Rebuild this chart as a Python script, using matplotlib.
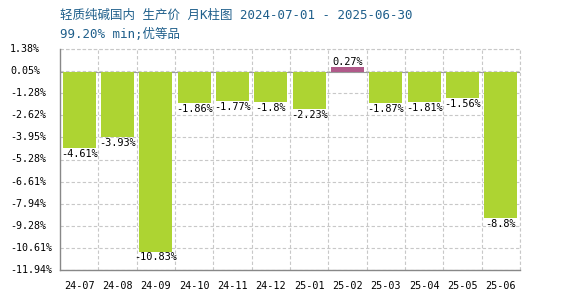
import matplotlib.pyplot as plt
import matplotlib.transforms as mtransforms

months = ['24-07', '24-08', '24-09', '24-10', '24-11', '24-12',
          '25-01', '25-02', '25-03', '25-04', '25-05', '25-06']
changes = [-4.61, -3.93, -10.83, -1.86, -1.77, -1.8,
           -2.23, 0.27, -1.87, -1.81, -1.56, -8.8]
yticks = [1.38, 0.05, -1.28, -2.62, -3.95, -5.28, -6.61, -7.94, -9.28, -10.61, -11.94]

mono = ['DejaVu Sans Mono', 'Noto Sans CJK SC']
plt.rcParams['font.family'] = mono

fig = plt.figure(figsize=(5.7, 3.0), dpi=100)
ax = fig.add_axes([60/570, 30/300, 460/570, 221/300])

x = list(range(len(months)))
colors = ['#ADD432' if v < 0 else '#B05A8A' for v in changes]
ax.bar(x, changes, width=0.86, color=colors, zorder=2)

for i, v in enumerate(changes):
    if v < 0:
        ax.text(i, v - 0.05, '%g%%' % v, ha='center', va='top', fontsize=7.4, zorder=3)
    else:
        ax.text(i, v + 0.05, '%g%%' % v, ha='center', va='bottom', fontsize=7.4, zorder=3)

ax.set_xlim(-0.5, len(months) - 0.5)
ax.set_ylim(-11.94, 1.38)
ax.set_yticks(yticks)
ax.set_yticklabels([])
ax.set_xticks(x)
ax.set_xticklabels(months, fontsize=7.3)
ax.set_xticks([i + 0.5 for i in x], minor=True)
ax.tick_params(axis='both', which='both', length=0)
ax.tick_params(axis='x', pad=8)

# y labels are left-aligned in the reference
trans = mtransforms.blended_transform_factory(fig.transFigure, ax.transData)
for t in yticks:
    ax.text(10/570, t, '%.2f%%' % t, transform=trans, ha='left', va='center',
            fontsize=7.2, clip_on=False)

grid_style = dict(linestyle=(0, (3, 2)), color='#c8c8c8', lw=0.8)
ax.grid(False)
ax.xaxis.grid(True, which='minor', zorder=0, **grid_style)
ax.yaxis.grid(True, which='major', zorder=0, **grid_style)
ax.axhline(1.38, clip_on=False, zorder=0, **grid_style)
ax.axvline(len(months) - 0.5, clip_on=False, zorder=0, **grid_style)
ax.axhline(0, color='#999999', lw=0.8, zorder=1)

for s in ['top', 'right']:
    ax.spines[s].set_visible(False)
for s in ['left', 'bottom']:
    ax.spines[s].set_color('#888888')
    ax.spines[s].set_linewidth(1.0)

fig.text(60/570, 1 - 15/300, '轻质纯碱国内 生产价 月K柱图 2024-07-01 - 2025-06-30',
         fontsize=9, color='#1f5f8b', va='center', ha='left')
fig.text(60/570, 1 - 34/300, '99.20% min;优等品',
         fontsize=9, color='#1f5f8b', va='center', ha='left')

fig.savefig('out.png', dpi=100)
